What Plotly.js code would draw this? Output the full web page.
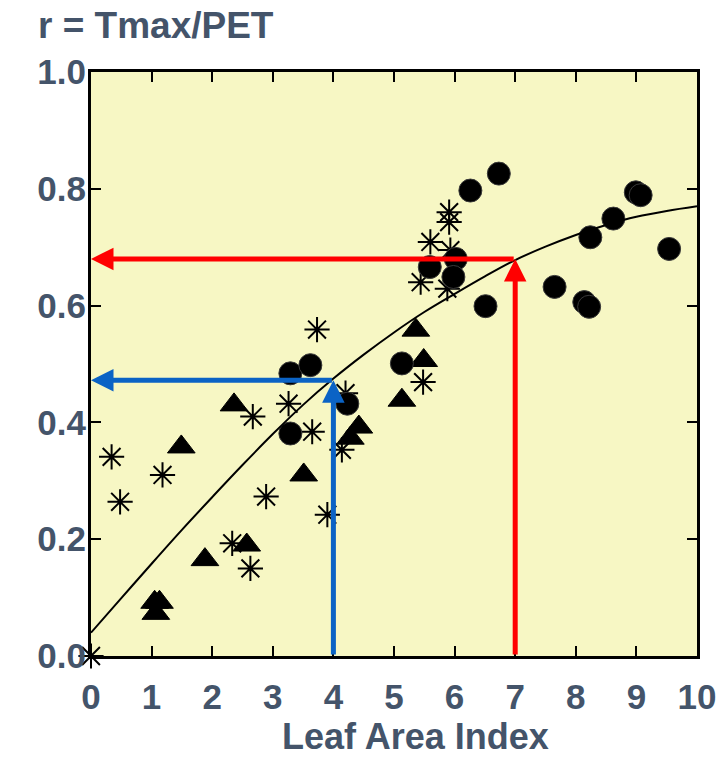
<!DOCTYPE html>
<html>
<head>
<meta charset="utf-8">
<script src="https://cdn.plot.ly/plotly-3.0.1.min.js"></script>
<style>html,body{margin:0;padding:0;background:#fff;}#chart{width:722px;height:757px;}</style>
</head>
<body>
<div id="chart"></div>
<script>
// Circles
const circleLAI = [3.29, 3.29, 3.62, 4.23, 5.13, 5.59, 6.02, 5.98, 6.26, 6.73, 6.51, 7.65, 8.14, 8.22, 8.24, 8.62, 8.99, 9.07, 9.54];
const circleR   = [0.484, 0.381, 0.498, 0.432, 0.501, 0.666, 0.68, 0.649, 0.797, 0.826, 0.599, 0.632, 0.606, 0.598, 0.717, 0.749, 0.794, 0.789, 0.697];
// Triangles
const triLAI = [1.05, 1.13, 1.07, 1.49, 1.88, 2.36, 2.57, 3.51, 4.28, 4.42, 5.13, 5.36, 5.49];
const triR   = [0.092, 0.092, 0.073, 0.358, 0.165, 0.43, 0.19, 0.31, 0.373, 0.392, 0.438, 0.558, 0.506];
// Asterisks
const starLAI = [0, 0.34, 0.48, 1.18, 2.33, 2.63, 2.67, 2.89, 3.26, 3.65, 3.73, 3.9, 4.14, 4.2, 5.44, 5.48, 5.6, 5.88, 5.93, 5.91, 5.91];
const starR   = [0, 0.341, 0.264, 0.31, 0.193, 0.15, 0.41, 0.273, 0.432, 0.384, 0.559, 0.242, 0.353, 0.45, 0.64, 0.469, 0.709, 0.629, 0.695, 0.743, 0.76];
// Fitted curve
const curveLAI = [0, 0.5, 1, 1.5, 2, 2.5, 3, 3.5, 4, 4.5, 5, 5.5, 6, 6.5, 7, 7.5, 8, 8.5, 9, 9.5, 10];
const curveR   = [0.04, 0.099, 0.158, 0.216, 0.272, 0.327, 0.380, 0.430, 0.475, 0.516, 0.554, 0.589, 0.620, 0.650, 0.678, 0.701, 0.721, 0.738, 0.752, 0.762, 0.770];
// Read-off arrows
const arrowLAI = [4, 7];
const arrowR = [0.472, 0.68];
const arrowColors = ['#0b63c5', '#ff0000'];
// Ticks
const xTicks = [0,1,2,3,4,5,6,7,8,9,10];
const yTicks = [0,0.2,0.4,0.6,0.8,1.0];
const yTickText = ['0.0','0.2','0.4','0.6','0.8','1.0'];

const fontFam = 'Liberation Sans, Arial, sans-serif';
const txtColor = '#44546a';

const traces = [
  {x: starLAI, y: starR, mode: 'markers', type: 'scatter', cliponaxis: false, name: 'asterisk',
   marker: {symbol: 'asterisk-open', size: 21, color: '#000', line: {color: '#000', width: 2}}},
  {x: triLAI, y: triR, mode: 'markers', type: 'scatter', cliponaxis: false, name: 'triangle',
   marker: {symbol: 'triangle-up', size: 24, color: '#000', line: {color: '#000', width: 1}}},
  {x: circleLAI, y: circleR, mode: 'markers', type: 'scatter', cliponaxis: false, name: 'circle',
   marker: {symbol: 'circle', size: 23, color: '#000', line: {color: '#3a3a3a', width: 1}}},
  {x: curveLAI, y: curveR, mode: 'lines', type: 'scatter', name: 'fit',
   line: {color: '#000', width: 2, shape: 'spline', smoothing: 1}}
];

const annotations = [];
for (let i = 0; i < arrowLAI.length; i++) {
  annotations.push({x: arrowLAI[i], y: arrowR[i], ax: arrowLAI[i], ay: 0, xref: 'x', yref: 'y', axref: 'x', ayref: 'y',
    text: '', showarrow: true, arrowhead: 2, arrowsize: 0.9, arrowwidth: 5, arrowcolor: arrowColors[i], standoff: 0});
  annotations.push({x: 0, y: arrowR[i], ax: arrowLAI[i], ay: arrowR[i], xref: 'x', yref: 'y', axref: 'x', ayref: 'y',
    text: '', showarrow: true, arrowhead: 2, arrowsize: 0.9, arrowwidth: 5, arrowcolor: arrowColors[i], standoff: 0});
}
annotations.push({text: 'Leaf Area Index', xref: 'paper', yref: 'paper', x: 0.535, y: -0.137, xanchor: 'center', yanchor: 'middle',
  showarrow: false, font: {family: fontFam, size: 36, color: txtColor, weight: 'bold'}});

const axisCommon = {
  showgrid: false, zeroline: false, showline: true, linecolor: '#000', linewidth: 3, mirror: 'ticks',
  ticks: 'inside', ticklen: 10, tickwidth: 2, tickcolor: '#000',
  tickfont: {family: fontFam, size: 35, color: txtColor, weight: 'bold'}
};

const layout = {
  width: 722, height: 757,
  margin: {l: 91, r: 25, t: 72, b: 101},
  paper_bgcolor: '#ffffff', plot_bgcolor: '#f7f7c4',
  showlegend: false,
  title: {text: 'r = Tmax/PET', x: 38/722, xanchor: 'left', xref: 'container', y: 1 - 25/757, yanchor: 'middle', yref: 'container',
    font: {family: fontFam, size: 37, color: txtColor, weight: 'bold'}},
  xaxis: Object.assign({}, axisCommon, {range: [0, 10], tickvals: xTicks, ticktext: xTicks.map(String), ticklabelstandoff: 8}),
  yaxis: Object.assign({}, axisCommon, {range: [0, 1], tickvals: yTicks, ticktext: yTickText, ticklabelstandoff: -5}),
  annotations: annotations
};

Plotly.newPlot('chart', traces, layout, {displayModeBar: false, staticPlot: true});
</script>
</body>
</html>
